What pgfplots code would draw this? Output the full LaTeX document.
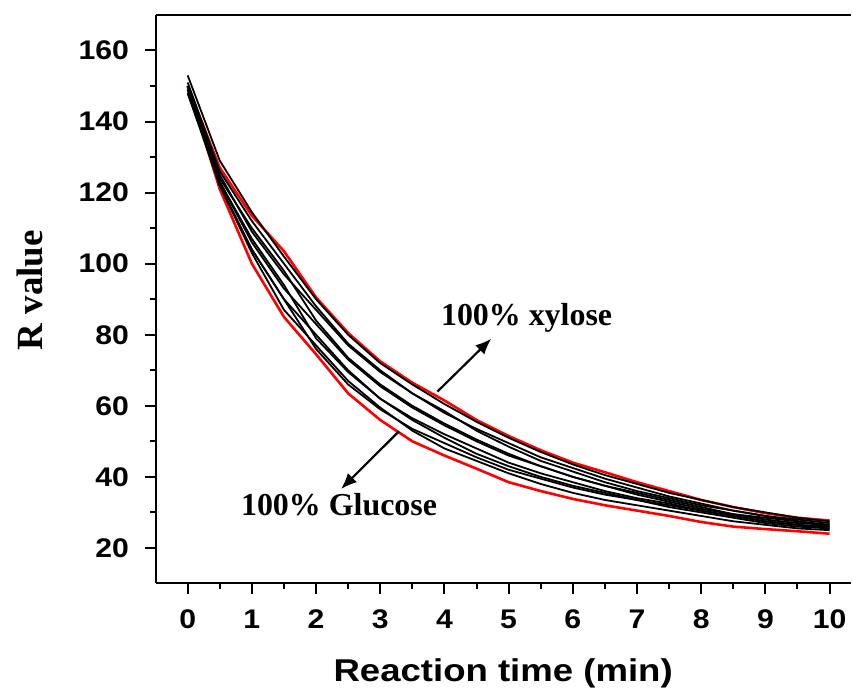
\documentclass[border=0pt]{standalone}
\usepackage{fontspec}
\setmainfont{Liberation Serif}
\newfontfamily\ticksans{Liberation Sans}[FakeStretch=1.12]
\newfontfamily\labsans{Liberation Sans}[FakeStretch=1.16]
\usepackage{pgfplots}
\usepackage{pgfplotstable}
\pgfplotsset{compat=1.18}
\usetikzlibrary{arrows.meta}

% R value vs reaction time, x in min
\pgfplotstableread{
x    L     U     B1    B2    B3    B4    B5    B6    B7    B8    B9
0    150   150   153   151   150   149   150   148   149   148   149
0.5  121   127   129   126   125   124   123   123   122   122   122
1    100   113.5 114.5 112   109   110   106   107   104   104   103
1.5  85    103.5 102   100   97    98    93    94    90    90    87
2    74.5  90.5  90    88    87    84    83    79    80    76    77
2.5  63.5  80.5  80    77.5  77    73.5  73    69.5  70    66    67
3    56    72.5  72    70    69.5  66    65.5  62    62    59    59.5
3.5  50    66.5  66    63.5  63.5  60    59.5  56.5  56    53.5  53
4    46    61.5  60.5  58    58.5  55    54.5  52    51    49.5  48
4.5  42.3  56    55.5  53.5  53    50.5  50    48    46.5  45.5  44.5
5    38.5  51.5  51    49.5  48.5  46.5  46    44    43    42    41
5.5  36    47.5  47    45.5  44.5  43    43    41    40    39.5  38
6    33.8  44    43.5  42.5  41.5  40    40    38.5  37.5  37    35.5
6.5  32    41.3  40.5  39.5  38.5  37.5  37.5  36    35.5  35    33.5
7    30.5  38.5  38    37    36    35.5  35    34    33.5  33.5  32
7.5  29    36    35.5  34.5  34    33.5  33    32.5  32    31.5  30.5
8    27.3  33.5  33.5  32.5  32    31.5  31    30.5  30.5  30    29
8.5  26    31.5  31.5  30.5  30.5  29.5  29.5  29    29    28.5  27.5
9    25.3  29.8  30    29    29    28    28.5  27.5  27.5  27    26.5
9.5  24.7  28.5  28.5  28    27.5  27    27.5  26.5  26.5  26    25.5
10   24    27.7  27.5  27    26.5  26.5  26    26    25.5  25.5  25
}\rdata

\begin{document}
\begin{tikzpicture}
\begin{axis}[
    scale only axis,
    width=348.5pt, height=285pt,
    xmin=-0.5, xmax=10.33,
    ymin=10, ymax=170,
    axis y line*=left,
    xtick pos=bottom,
    axis line style={line width=1pt},
    xtick={0,1,...,10},
    ytick={20,40,...,160},
    minor x tick num=1,
    minor y tick num=1,
    tick align=outside,
    major tick length=5.3pt,
    minor tick length=2.8pt,
    tick style={line width=1pt, black},
    /pgf/number format/assume math mode=true,
    ticklabel style={font=\ticksans\bfseries\fontsize{13.5}{13.5}\selectfont},
    xticklabel style={anchor=base, yshift=-17.5pt},
    yticklabel style={xshift=-4.5pt},
    xlabel={Reaction time (min)},
    xlabel style={font=\labsans\bfseries\fontsize{15.8}{16}\selectfont,
        at={(axis description cs:0.5,-0.172)}, anchor=base},
    ylabel={R value},
    ylabel style={font=\bfseries\fontsize{18.5}{19}\selectfont,
        at={(axis description cs:-0.181,0.516)}, anchor=center},
    clip=false,
]
\addplot[red, line width=1.3pt] table[x=x, y=L] {\rdata};
\addplot[red, line width=1.3pt] table[x=x, y=U] {\rdata};
\addplot[black, line width=0.9pt] table[x=x, y=B1] {\rdata};
\addplot[black, line width=0.9pt] table[x=x, y=B2] {\rdata};
\addplot[black, line width=0.9pt] table[x=x, y=B3] {\rdata};
\addplot[black, line width=0.9pt] table[x=x, y=B4] {\rdata};
\addplot[black, line width=0.9pt] table[x=x, y=B5] {\rdata};
\addplot[black, line width=0.9pt] table[x=x, y=B6] {\rdata};
\addplot[black, line width=0.9pt] table[x=x, y=B7] {\rdata};
\addplot[black, line width=0.9pt] table[x=x, y=B8] {\rdata};
\addplot[black, line width=0.9pt] table[x=x, y=B9] {\rdata};

\draw[line width=1.1pt, -{Latex[length=8pt, width=6.5pt]}] (axis cs:3.89,64.0) -- (axis cs:4.73,78.9);
\draw[line width=1.1pt, -{Latex[length=8pt, width=6.5pt]}] (axis cs:3.29,52.8) -- (axis cs:2.39,36.6);
\node[font=\bfseries\fontsize{16}{16}\selectfont, anchor=base, inner sep=0pt] at (axis cs:5.28,82.5) {100\% xylose};
\node[font=\bfseries\fontsize{16}{16}\selectfont, anchor=base, inner sep=0pt] at (axis cs:2.358,29.0) {100\% Glucose};

\coordinate (bbl) at (axis description cs:-0.2238,-0.186);
\coordinate (btr) at (axis description cs:1,1.0263);
\end{axis}
\path (bbl) rectangle (btr);
\end{tikzpicture}
\end{document}
